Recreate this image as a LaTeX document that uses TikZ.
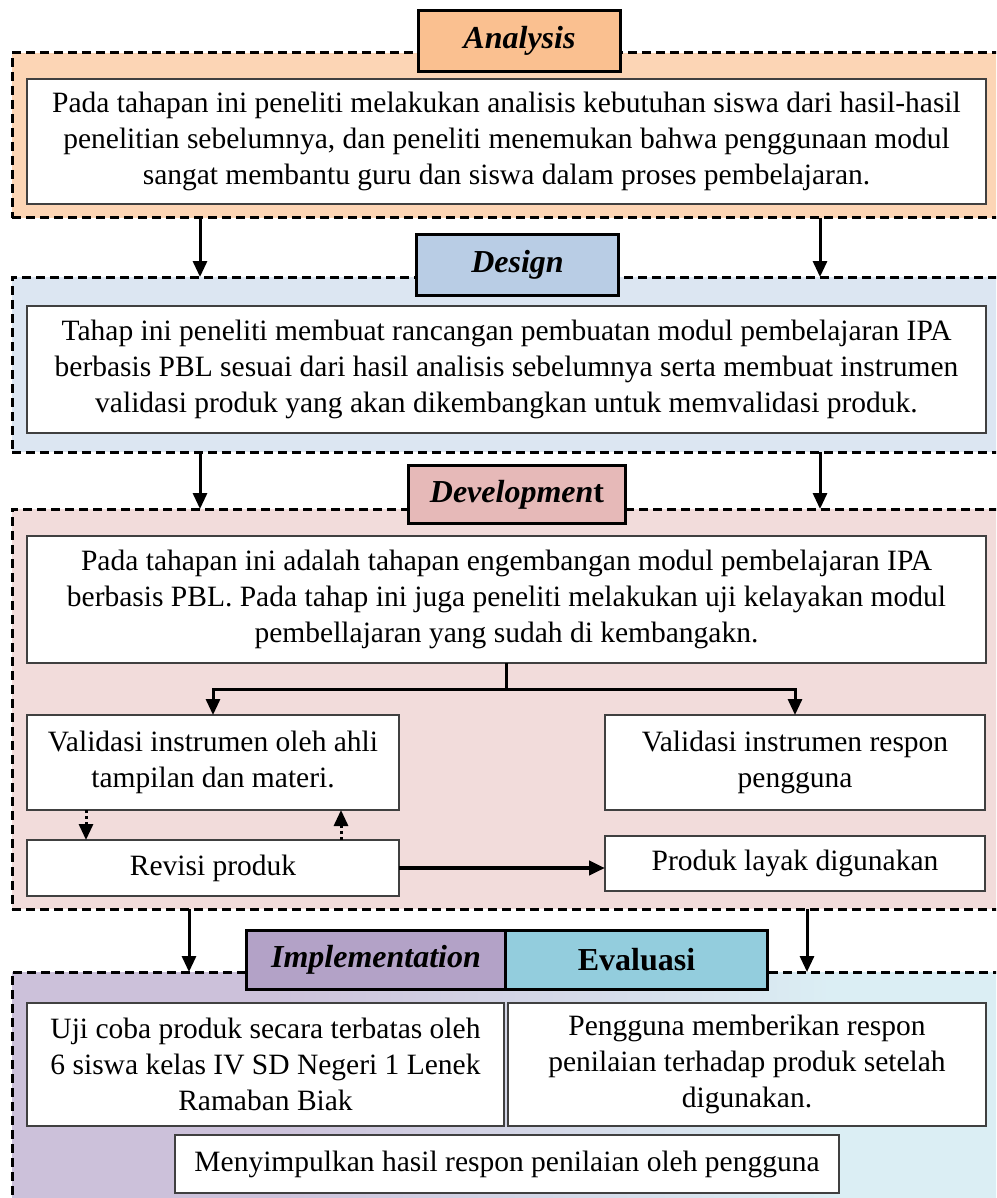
\documentclass[tikz,border=0pt]{standalone}
\usepackage{fontspec}
\setmainfont{Liberation Serif}
\usetikzlibrary{arrows.meta, positioning}
\definecolor{analysis-bg}{RGB}{252,213,181}
\definecolor{analysis-hd}{RGB}{250,192,144}
\definecolor{design-bg}{RGB}{220,230,242}
\definecolor{design-hd}{RGB}{185,205,229}
\definecolor{devel-bg}{RGB}{242,220,219}
\definecolor{devel-hd}{RGB}{230,185,184}
\definecolor{impl-hd}{RGB}{179,162,199}
\definecolor{eval-hd}{RGB}{147,205,221}
\definecolor{impl-bg}{RGB}{204,193,218}
\definecolor{eval-bg}{RGB}{219,238,244}
\definecolor{box-line}{RGB}{64,64,64}
\pgfdeclarehorizontalshading{ie-shade}{100bp}{color(0bp)=(impl-bg); color(38bp)=(impl-bg); color(66bp)=(eval-bg); color(100bp)=(eval-bg)}

\begin{document}
\begin{tikzpicture}[x=1pt, y=-1pt,
  region/.style={rectangle, draw, line width=3pt, dash pattern=on 9pt off 5pt, minimum width=1000pt, anchor=north west, outer sep=0pt},
  header/.style={rectangle, draw, line width=3.5pt, font=\fontsize{32}{38}\selectfont\bfseries, inner sep=0pt, outer sep=0pt},
  box/.style={rectangle, draw=box-line, line width=1.3pt, fill=white, align=center, inner sep=0pt, outer sep=0pt, anchor=north west, font=\fontsize{29.5}{36}\selectfont},
  arrow/.style={-{Triangle[width=14pt,length=16pt]}, line width=3pt},
  dotarrow/.style={arrow, dash pattern=on 3pt off 3pt}
]
\useasboundingbox (0,0) rectangle (996,1198);
\clip (0,0) rectangle (996,1198);

% stage regions
\node[region, fill=analysis-bg, minimum height=165] (regA) at (12,53) {};
\node[region, fill=design-bg, minimum height=175] (regD) at (12,277) {};
\node[region, fill=devel-bg, minimum height=400] (regDev) at (12,509) {};
\node[region, shade, shading=ie-shade, minimum height=250] (regIE) at (12,972) {};

% headers
\node[header, fill=analysis-hd, minimum width=202, minimum height=61] (hdA) at (519.5,41) {\itshape Analysis};
\node[header, fill=design-hd, minimum width=202, minimum height=61] (hdD) at (517.5,265) {\itshape Design};
\node[header, fill=devel-hd, minimum width=217, minimum height=58] (hdDev) at (517,494.5) {\textit{Developmen}t};
\node[header, fill=impl-hd, minimum width=259, minimum height=59] (hdI) at (376,960) {\itshape Implementation};
\node[header, fill=eval-hd, minimum width=262, minimum height=59, right=0pt of hdI] (hdE) {Evaluasi};

% text boxes
\node[box, minimum width=959, minimum height=125] (txtA) at (27,79) {Pada tahapan ini peneliti melakukan analisis kebutuhan siswa dari hasil-hasil\\ penelitian sebelumnya, dan peneliti menemukan bahwa penggunaan modul\\ sangat membantu guru dan siswa dalam proses pembelajaran.};
\node[box, minimum width=959, minimum height=127] (txtD) at (27,306) {Tahap ini peneliti membuat rancangan pembuatan modul pembelajaran IPA\\ berbasis PBL sesuai dari hasil analisis sebelumnya serta membuat instrumen\\ validasi produk yang akan dikembangkan untuk memvalidasi produk.};
\node[box, minimum width=959, minimum height=127] (txtDev) at (27,536) {Pada tahapan ini adalah tahapan engembangan modul pembelajaran IPA\\ berbasis PBL. Pada tahap ini juga peneliti melakukan uji kelayakan modul\\ pembellajaran yang sudah di kembangakn.};
\node[box, minimum width=372, minimum height=95] (valL) at (27,715) {Validasi instrumen oleh ahli\\ tampilan dan materi.};
\node[box, minimum width=380, minimum height=95] (valR) at (605,715) {Validasi instrumen respon\\ pengguna};
\node[box, minimum width=372, minimum height=56] (rev) at (27,840) {Revisi produk};
\node[box, minimum width=380, minimum height=55] (prod) at (605,836) {Produk layak digunakan};
\node[box, minimum width=477, minimum height=123] (uji) at (27,1003) {Uji coba produk secara terbatas oleh\\ 6 siswa kelas IV SD Negeri 1 Lenek\\ Ramaban Biak};
\node[box, minimum width=478, minimum height=123] (peng) at (508,1003) {Pengguna memberikan respon\\ penilaian terhadap produk setelah\\ digunakan.};
\node[box, minimum width=664, minimum height=58] (simpul) at (175,1135) {Menyimpulkan hasil respon penilaian oleh pengguna};

% arrows between stages
\draw[arrow] ([xshift=188]regA.south west) -- ([xshift=188]regD.north west);
\draw[arrow] ([xshift=808]regA.south west) -- ([xshift=808]regD.north west);
\draw[arrow] ([xshift=188]regD.south west) -- ([xshift=188]regDev.north west);
\draw[arrow] ([xshift=808]regD.south west) -- ([xshift=808]regDev.north west);
\draw[arrow] ([xshift=177]regDev.south west) -- ([xshift=177]regIE.north west);
\draw[arrow] ([xshift=795]regDev.south west) -- ([xshift=795]regIE.north west);

% development branches
\draw[line width=3pt] (txtDev.south) -- ++(0,26) coordinate (split);
\draw[arrow] (split) -| (valL.north);
\draw[arrow] (split) -| (valR.north);
\draw[dotarrow] ([xshift=59]valL.south west) -- ([xshift=59]rev.north west);
\draw[dotarrow] ([xshift=314]rev.north west) -- ([xshift=314]valL.south west);
\draw[arrow, line width=4pt] (rev.east) -- (rev.east -| prod.west);
\end{tikzpicture}
\end{document}
